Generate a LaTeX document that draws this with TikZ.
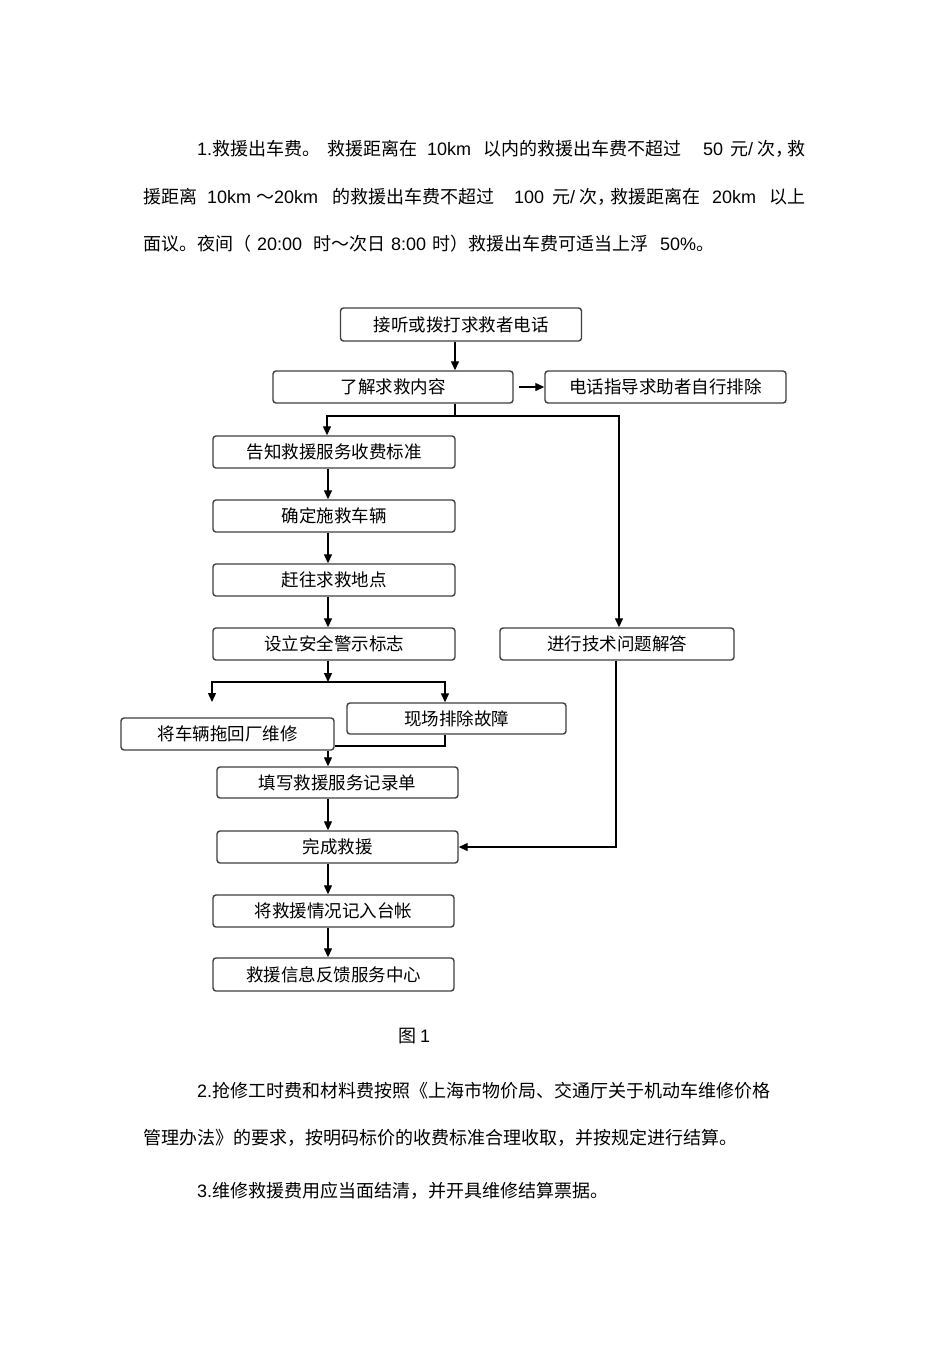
\documentclass[tikz,border=0pt]{standalone}
\usepackage{fontspec}
\setmainfont{Noto Sans CJK SC}
\newfontfamily\lat{Liberation Sans}
\usetikzlibrary{arrows.meta}
\definecolor{boxgray}{HTML}{404040}
\begin{document}
\begin{tikzpicture}[x=1pt,y=-1pt,
  box/.style={draw=boxgray, line width=1.4pt, rounded corners=3pt, minimum width=241pt,
    minimum height=32pt, inner sep=0pt, font=\fontsize{17.5pt}{20pt}\selectfont},
  conn/.style={line width=1.3pt, black},
  arr/.style={conn, -{Triangle[length=9pt,width=8pt]}},
  para/.style={anchor=base west, inner sep=0pt, font=\fontsize{18pt}{22pt}\selectfont}]
\fill[white] (0,0) rectangle (950,1345);
\useasboundingbox (0,0) rectangle (950,1345);

% paragraph 1
\node[para] (l1a) at (197,155) {{\lat 1.}救援出车费。};
\node[para] (l1b) at (327,155) {救援距离在};
\node[para] (l1c) at (427,155) {\lat 10km};
\node[para] (l1d) at (483,155) {以内的救援出车费不超过};
\node[para] (l1e) at (703,155) {\lat 50};
\node[para] (l1f) at (730,155) {元{\lat/} 次，};
\node[para] (l1g) at (787,155) {救};

\node[para] (l2a) at (143,203) {援距离};
\node[para] (l2b) at (207,203) {\lat 10km};
\node[para] (l2c) at (256,203) {～{\lat 20km}};
\node[para] (l2d) at (332,203) {的救援出车费不超过};
\node[para] (l2e) at (514,203) {\lat 100};
\node[para] (l2f) at (552,203) {元{\lat/} 次，};
\node[para] (l2g) at (610,203) {救援距离在};
\node[para] (l2h) at (712,203) {\lat 20km};
\node[para] (l2i) at (769,203) {以上};

\node[para] (l3a) at (143,250) {面议。夜间（};
\node[para] (l3b) at (257,250) {\lat 20:00};
\node[para] (l3c) at (313,250) {时～次日};
\node[para] (l3d) at (391,250) {\lat 8:00};
\node[para] (l3e) at (432,250) {时）救援出车费可适当上浮};
\node[para] (l3f) at (660,250) {{\lat 50\%}。};

% flowchart boxes
\node[box, minimum height=33pt] (b1) at (461,324.5) {接听或拨打求救者电话};
\node[box, minimum width=240pt] (b2) at (393,387) {了解求救内容};
\node[box] (b3) at (665.5,387) {电话指导求助者自行排除};
\node[box, minimum width=242pt] (b4) at (334,452) {告知救援服务收费标准};
\node[box, minimum width=242pt] (b5) at (334,516) {确定施救车辆};
\node[box, minimum width=242pt] (b6) at (334,580) {赶往求救地点};
\node[box, minimum width=242pt] (b7) at (334,644) {设立安全警示标志};
\node[box, minimum width=234pt] (tech) at (617,644) {进行技术问题解答};
\node[box, minimum width=219pt, minimum height=31pt] (fix) at (456.5,718.5) {现场排除故障};
\node[box, minimum width=213pt] (tow) at (227.5,734) {将车辆拖回厂维修};
\node[box, minimum height=31pt] (rec) at (337.5,782.5) {填写救援服务记录单};
\node[box] (done) at (337.5,847) {完成救援};
\node[box] (ledger) at (333.5,911) {将救援情况记入台帐};
\node[box, minimum height=33pt] (fb) at (333.5,974.5) {救援信息反馈服务中心};

\node[para] (cap) at (398,1042) {图 {\lat 1}};

% paragraphs 2 and 3
\node[para] (p2a) at (197,1097) {{\lat 2.}抢修工时费和材料费按照《上海市物价局、交通厅关于机动车维修价格};
\node[para] (p2b) at (143,1144) {管理办法》的要求，按明码标价的收费标准合理收取，并按规定进行结算。};
\node[para] (p3a) at (197,1197) {{\lat 3.}维修救援费用应当面结清，并开具维修结算票据。};

% helper coordinates
\coordinate (xA) at (455,0);
\coordinate (xB) at (327,0);
\coordinate (xC) at (619,0);
\coordinate (xD) at (328,0);
\coordinate (xE) at (445,0);
\coordinate (xF) at (616,0);
\coordinate (j1) at (455,416);
\coordinate (j2) at (328,682);
\coordinate (lend) at (212,702);
\coordinate (j3) at (0,746);

% connectors
\draw[arr] (b1.south -| xA) -- (b2.north -| xA);
\draw[arr] ([xshift=5pt]b2.east) -- (b3.west);
\draw[conn] (b2.south -| xA) -- (j1);
\draw[arr] (j1) -| (b4.north -| xB);
\draw[arr] (j1) -| (tech.north -| xC);
\draw[arr] (b4.south -| xD) -- (b5.north -| xD);
\draw[arr] (b5.south -| xD) -- (b6.north -| xD);
\draw[arr] (b6.south -| xD) -- (b7.north -| xD);
\draw[arr] (b7.south -| xD) -- (j2);
\draw[arr] (j2) -| (lend);
\draw[arr] (j2) -| (fix.north -| xE);
\draw[conn] (fix.south -| xE) |- (tow.east |- j3);
\draw[arr] (tow.south -| xD) -- (rec.north -| xD);
\draw[arr] (rec.south -| xD) -- (done.north -| xD);
\draw[arr] (tech.south -| xF) |- (done.east);
\draw[arr] (done.south -| xD) -- (ledger.north -| xD);
\draw[arr] (ledger.south -| xD) -- (fb.north -| xD);
\end{tikzpicture}
\end{document}
